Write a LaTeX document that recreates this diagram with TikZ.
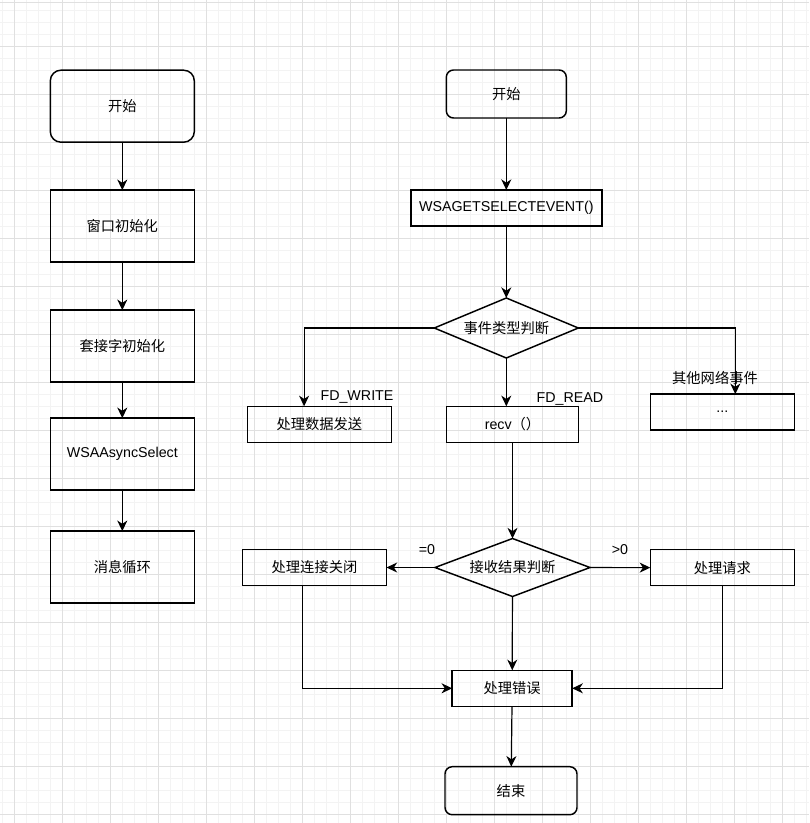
\documentclass[tikz,border=0pt]{standalone}
\usepackage{fontspec}
\setmainfont{Liberation Sans}
\newfontfamily\cjk{Noto Sans CJK SC}
\usetikzlibrary{positioning,shapes.geometric,arrows.meta,calc}
\tikzset{>={Stealth[length=8pt,width=7.5pt,inset=2.5pt]}}
\definecolor{gridmajor}{HTML}{E0E0E0}
\definecolor{gridminor}{HTML}{F3F3F3}

\begin{document}
\begin{tikzpicture}[x=0.75pt,y=-0.75pt,
    font=\fontsize{10.7pt}{13pt}\selectfont,
    box/.style={draw,line width=1.1pt,minimum width=108pt,minimum height=27pt,
      inner sep=0pt,outer sep=0pt},
    tallbox/.style={box,minimum height=54pt},
    startbox/.style={box,rounded corners=5.4pt,minimum width=90pt,minimum height=36pt},
    decide/.style={draw,diamond,aspect=2.4,inner sep=0pt,outer sep=0pt,line width=1.1pt,
      minimum width=108pt,minimum height=45pt},
    flow/.style={->,line width=0.9pt}]
  \useasboundingbox (0,0) rectangle (809,823);

  \foreach \x in {2.3,14.3,...,809} \draw[gridminor,line width=0.75pt] (\x,0) -- (\x,823);
  \foreach \y in {10.3,22.3,...,823} \draw[gridminor,line width=0.75pt] (0,\y) -- (809,\y);
  \foreach \x in {14.3,62.3,...,809} \draw[gridmajor,line width=0.75pt] (\x,0) -- (\x,823);
  \foreach \y in {46.3,94.3,...,823} \draw[gridmajor,line width=0.75pt] (0,\y) -- (809,\y);
  \draw[gridmajor,line width=0.75pt] (0,2.3) -- (809,2.3);

  \node [tallbox,rounded corners=8pt] (lstart) at (122.3,106.2) {\cjk 开始};
  \node [tallbox,below=36pt of lstart] (lwin) {\cjk 窗口初始化};
  \node [tallbox,below=36pt of lwin] (lsock) {\cjk 套接字初始化};
  \node [tallbox,below=27pt of lsock] (lwsa) {WSAAsyncSelect};
  \node [tallbox,below=30.75pt of lwsa] (lloop) {\cjk 消息循环};

  \node [startbox] (rstart) at (506.3,94) {\cjk 开始};
  \node [box,minimum width=143.25pt,below=54pt of rstart] (getev) {WSAGETSELECTEVENT()};
  \node [decide,below=54pt of getev] (evtype) {\cjk 事件类型判断};

  \node [box] (write) at (319.3,424.3) {\cjk 处理数据发送};
  \node [box,minimum width=99pt] (recv) at (512.5,424.3) {recv{\cjk （）}};
  \node [box] (more) at (722.3,412.2) {...};

  \node [decide,minimum width=116.25pt,minimum height=43.5pt] (recvres) at (512.5,567.5) {\cjk 接收结果判断};
  \node [box] (close) at (314.5,567.5) {\cjk 处理连接关闭};
  \node [box] (req) at (722.3,567.7) {\cjk 处理请求};
  \node [box,minimum width=90pt] (err) at (512.2,688.3) {\cjk 处理错误};
  \node [startbox,minimum width=99pt] (rend) at (511,790.7) {\cjk 结束};

  \node (lwrite) at (357,397) {FD\_WRITE};
  \node (lread) at (570,399) {FD\_READ};
  \node (lmore) at (715,378.3) {\cjk 其他网络事件};
  \node (lzero) at (427,550) {=0};
  \node (lpos) at (620,550) {>0};

  \draw[flow] (lstart) -- (lwin);
  \draw[flow] (lwin) -- (lsock);
  \draw[flow] (lsock) -- (lwsa);
  \draw[flow] (lwsa) -- (lloop);

  \draw[flow] (rstart) -- (getev);
  \draw[flow] (getev) -- (evtype);
  \draw[flow] (evtype.west) -| ([xshift=-11.4pt]write.north);
  \draw[flow] (evtype.south) -- (evtype.south |- recv.north);
  \draw[flow] (evtype.east) -| ([xshift=9.75pt]more.north);
  \draw[flow] (recv) -- (recvres);
  \draw[flow] (recvres) -- (close);
  \draw[flow] (recvres) -- (req);
  \draw[flow] (recvres) -- (err);
  \draw[flow] ([xshift=-9.15pt]close.south) |- (err.west);
  \draw[flow] (req.south) |- (err.east);
  \draw[flow] (err) -- (rend);
\end{tikzpicture}
\end{document}
